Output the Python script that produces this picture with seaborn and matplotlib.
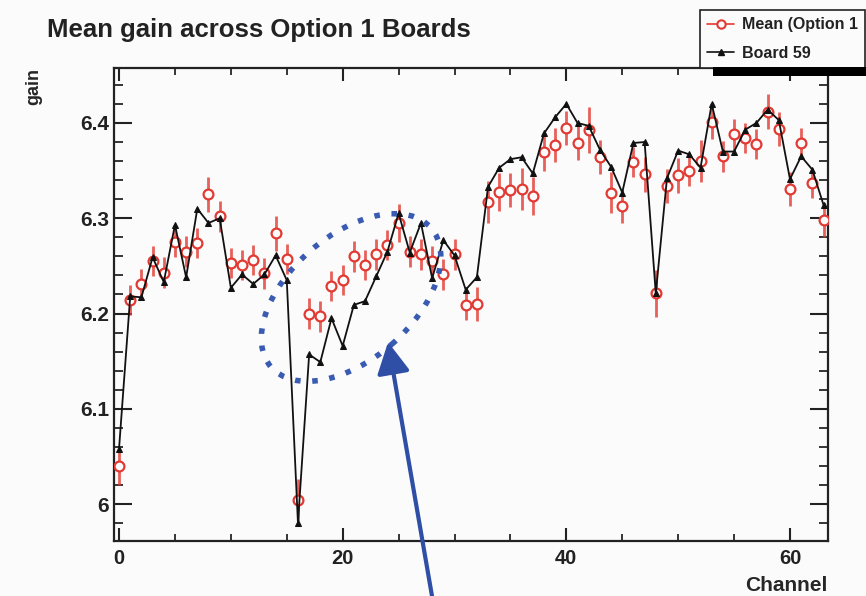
import numpy as np
import pandas as pd
import matplotlib
matplotlib.use("Agg")
import matplotlib.pyplot as plt
import seaborn as sns
from matplotlib.patches import Ellipse, Rectangle
from matplotlib.lines import Line2D
from matplotlib.ticker import MultipleLocator, FuncFormatter
import matplotlib.transforms as mtransforms

# ---------------- data ----------------
channels = list(range(64))

board59 = [6.058, 6.218, 6.217, 6.259, 6.233, 6.293, 6.238, 6.310, 6.295, 6.300,
           6.227, 6.241, 6.231, 6.241, 6.261, 6.235, 5.980, 6.157, 6.149, 6.195,
           6.166, 6.209, 6.213, 6.239, 6.265, 6.305, 6.264, 6.295, 6.237, 6.277,
           6.261, 6.225, 6.238, 6.333, 6.353, 6.362, 6.364, 6.347, 6.389, 6.406,
           6.420, 6.400, 6.397, 6.372, 6.354, 6.327, 6.379, 6.380, 6.221, 6.342,
           6.371, 6.367, 6.353, 6.420, 6.370, 6.370, 6.393, 6.400, 6.414, 6.403,
           6.341, 6.365, 6.351, 6.314]

mean_gain = [6.040, 6.214, 6.231, 6.255, 6.243, 6.275, 6.265, 6.274, 6.325, 6.302,
             6.253, 6.251, 6.256, 6.242, 6.284, 6.257, 6.004, 6.200, 6.197, 6.229,
             6.235, 6.260, 6.251, 6.262, 6.272, 6.295, 6.265, 6.262, 6.255, 6.241,
             6.262, 6.209, 6.210, 6.317, 6.328, 6.330, 6.331, 6.323, 6.370, 6.377,
             6.395, 6.379, 6.393, 6.364, 6.327, 6.313, 6.359, 6.346, 6.221, 6.334,
             6.345, 6.350, 6.360, 6.401, 6.365, 6.388, 6.384, 6.378, 6.412, 6.394,
             6.331, 6.379, 6.337, 6.298]

mean_err = [0.020, 0.016, 0.016, 0.016, 0.016, 0.016, 0.016, 0.016, 0.018, 0.016,
            0.016, 0.016, 0.016, 0.016, 0.018, 0.016, 0.022, 0.016, 0.016, 0.016,
            0.016, 0.016, 0.016, 0.016, 0.016, 0.020, 0.016, 0.016, 0.016, 0.016,
            0.016, 0.016, 0.018, 0.022, 0.020, 0.018, 0.022, 0.020, 0.020, 0.018,
            0.018, 0.018, 0.024, 0.018, 0.022, 0.018, 0.016, 0.018, 0.025, 0.018,
            0.018, 0.016, 0.022, 0.018, 0.016, 0.016, 0.016, 0.016, 0.018, 0.018,
            0.018, 0.016, 0.016, 0.018]

title = "Mean gain across Option 1 Boards"
label_mean = "Mean (Option 1"
label_board = "Board 59"
xlabel = "Channel"
ylabel = "gain"

# annotation geometry (data coords)
ellipse_center = (20.75, 6.2168)
arrow_tip = (24.06, 6.170)
arrow_tail = (28.2, 5.889)

# ---------------- style ----------------
bg = "#fbfbfb"
red = "#e23a32"
black = "#111111"
blue = "#3a5bb2"
arrow_blue = "#2f4fa6"

sns.set_style("ticks")
plt.rcParams["font.family"] = ["Liberation Sans", "DejaVu Sans"]
plt.rcParams["font.weight"] = "bold"
plt.rcParams["axes.labelweight"] = "bold"
plt.rcParams["text.color"] = "#222222"

fig = plt.figure(figsize=(8.66, 5.96), dpi=100, facecolor=bg)
ax = fig.add_axes([114 / 866, 55 / 596, 714 / 866, 473 / 596])
ax.set_facecolor(bg)

df_board = pd.DataFrame({"channel": channels, "gain": board59})
df_mean = pd.DataFrame({"channel": channels, "gain": mean_gain, "err": mean_err})

# error bars for the mean
ax.errorbar(df_mean["channel"], df_mean["gain"], yerr=df_mean["err"], fmt="none",
            ecolor=red, elinewidth=2.0, capsize=0, alpha=0.8, zorder=2)

# board 59 line
sns.lineplot(data=df_board, x="channel", y="gain", ax=ax, color=black, lw=1.3,
             marker="^", markersize=4, markeredgecolor=black, zorder=4,
             legend=False)

# mean markers
sns.scatterplot(data=df_mean, x="channel", y="gain", ax=ax, color=bg,
                edgecolor=red, linewidth=1.6, s=50, marker="o", zorder=3,
                legend=False)

# ---------------- axes ----------------
ax.set_xlim(-0.45, 63.4)
ax.set_ylim(5.9612, 6.4577)
ax.xaxis.set_major_locator(MultipleLocator(20))
ax.xaxis.set_minor_locator(MultipleLocator(5))
ax.yaxis.set_major_locator(MultipleLocator(0.1))
ax.yaxis.set_minor_locator(MultipleLocator(0.02))
fmt = FuncFormatter(lambda v, p: "%g" % round(v, 3))
ax.xaxis.set_major_formatter(fmt)
ax.yaxis.set_major_formatter(fmt)

for s in ax.spines.values():
    s.set_linewidth(1.6)
    s.set_color("#222222")
    s.set_visible(True)

ax.tick_params(axis="x", which="major", direction="in", length=9.4, width=1.5,
               top=True, bottom=True, pad=6, labelsize=14.5, colors="#222222")
ax.tick_params(axis="x", which="minor", direction="in", length=4.7, width=1.3,
               top=True, bottom=True)
ax.tick_params(axis="y", which="major", direction="in", length=13, width=1.5,
               left=True, right=True, pad=3.5, labelsize=15, colors="#222222")
ax.tick_params(axis="y", which="minor", direction="in", length=6.5, width=1.3,
               left=True, right=True)
for lab in ax.get_xticklabels() + ax.get_yticklabels():
    lab.set_fontweight("bold")

ax.set_xlabel(xlabel, loc="right", fontsize=15, fontweight="bold")
ax.xaxis.set_label_coords(1.0, -0.075)
ax.set_ylabel(ylabel, loc="top", fontsize=13, fontweight="bold")
ax.yaxis.set_label_coords(-0.1, 1.0)

fig.text(47 / 866, 1 - 37 / 596, title, fontsize=18.5, fontweight="bold",
         ha="left", va="baseline", color="#222222")

# ---------------- annotations ----------------
ell = Ellipse((0, 0), width=2.12, height=1.24, angle=41, fill=False,
              edgecolor=blue, lw=4.0, linestyle=(0, (1, 2.1)),
              transform=fig.dpi_scale_trans + mtransforms.ScaledTranslation(
                  ellipse_center[0], ellipse_center[1], ax.transData),
              zorder=5, clip_on=False)
ell.set_capstyle("butt")
ax.add_patch(ell)

ax.annotate("", xy=arrow_tip, xytext=arrow_tail, xycoords="data",
            textcoords="data", annotation_clip=False,
            arrowprops=dict(arrowstyle="-|>,head_length=0.95,head_width=0.5",
                            mutation_scale=20, lw=3, color=arrow_blue,
                            shrinkA=0, shrinkB=0), zorder=6)

# ---------------- legend ----------------
handles = [
    Line2D([], [], color=red, lw=1.2, marker="o", markersize=6,
           markerfacecolor=bg, markeredgecolor=red, markeredgewidth=1.5),
    Line2D([], [], color=black, lw=1.2, marker="^", markersize=4),
]
leg = ax.legend(handles, [label_mean, label_board], loc="upper left",
                bbox_to_anchor=(700 / 866, 1 - 10 / 596),
                bbox_transform=fig.transFigure, frameon=True, fancybox=False,
                edgecolor="#222222", facecolor=bg, framealpha=1,
                borderaxespad=0, borderpad=0.45, labelspacing=0.85,
                handlelength=1.7, handletextpad=0.45,
                prop={"size": 11.5, "weight": "bold"})
leg.get_frame().set_linewidth(1.2)
leg.set_zorder(10)

# legend shadow (ROOT style)
fig.patches.append(Rectangle((713 / 866, 1 - 76 / 596), 200 / 866, 9 / 596,
                             transform=fig.transFigure, facecolor="black",
                             edgecolor="none", zorder=20))

fig.savefig("out.png", dpi=100, facecolor=bg)
